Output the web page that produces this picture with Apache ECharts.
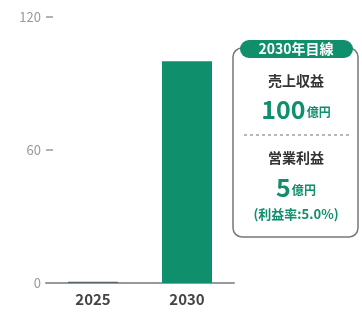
<!DOCTYPE html>
<html><head><meta charset="utf-8">
<script src="https://cdn.jsdelivr.net/npm/echarts@6/dist/echarts.min.js"></script>
<style>html,body{margin:0;padding:0;background:#fff}#c{width:362px;height:313px}</style>
</head><body><div id="c"></div>
<script>
const categories = ['2025', '2030'];
const revenue = [0.6, 100];
const yTicks = [0, 60, 120];
const boxTitle = '2030年目線';
const boxRevLabel = '売上収益';
const boxRevValue = '100';
const boxOpLabel = '営業利益';
const boxOpValue = '5';
const boxUnit = '億円';
const boxMargin = '(利益率:5.0%)';

const green = '#0f8f6c';
const font = '"Noto Sans CJK JP", "Noto Sans", sans-serif';
const chart = echarts.init(document.getElementById('c'), null, {renderer: 'canvas'});
const cx = 296;
chart.setOption({
  animation: false,
  grid: {left: 46, right: 128, top: 17, bottom: 30},
  xAxis: {
    type: 'category', data: categories,
    axisLine: {lineStyle: {color: '#999', width: 2}},
    axisTick: {show: false},
    axisLabel: {color: '#444', fontSize: 15, fontWeight: 600, fontFamily: font, margin: 9}
  },
  yAxis: {
    type: 'value', min: yTicks[0], max: yTicks[yTicks.length - 1], interval: yTicks[1] - yTicks[0],
    axisLine: {show: false},
    axisTick: {show: true, inside: true, length: 7, lineStyle: {color: '#999', width: 1.5}},
    splitLine: {show: false},
    axisLabel: {color: '#999', fontSize: 13, fontFamily: font, margin: 5}
  },
  series: [{
    type: 'bar', data: revenue.map((v, i) => ({value: v, itemStyle: {color: i === 0 ? '#56656a' : green}})),
    barWidth: 50
  }],
  graphic: [
    {type: 'rect', shape: {x: 233, y: 48, width: 125, height: 189, r: 9},
     style: {fill: '#fff', stroke: '#777', lineWidth: 1.5}},
    {type: 'rect', shape: {x: 240, y: 40, width: 113, height: 18, r: 9},
     style: {fill: green}},
    {type: 'text', x: cx, y: 49, style: {text: boxTitle, fill: '#fff', font: '600 14px ' + font, align: 'center', verticalAlign: 'middle'}},
    {type: 'text', x: cx, y: 81, style: {text: boxRevLabel, fill: '#333', font: 'bold 14px ' + font, align: 'center', verticalAlign: 'middle'}},
    {type: 'text', x: cx, y: 109, style: {
      text: '{a|' + boxRevValue + '}{b|' + boxUnit + '}', align: 'center', verticalAlign: 'middle',
      rich: {a: {fill: green, font: 'bold 25px ' + font}, b: {fill: green, font: 'bold 12px ' + font, padding: [7, 0, 0, 1]}}}},
    {type: 'line', shape: {x1: 244, y1: 135, x2: 350, y2: 135}, style: {stroke: '#888', lineWidth: 1.2, lineDash: [3, 3]}},
    {type: 'text', x: cx, y: 158, style: {text: boxOpLabel, fill: '#333', font: 'bold 14px ' + font, align: 'center', verticalAlign: 'middle'}},
    {type: 'text', x: cx, y: 187, style: {
      text: '{a|' + boxOpValue + '}{b|' + boxUnit + '}', align: 'center', verticalAlign: 'middle',
      rich: {a: {fill: green, font: 'bold 25px ' + font}, b: {fill: green, font: 'bold 12px ' + font, padding: [7, 0, 0, 1]}}}},
    {type: 'text', x: cx, y: 214, style: {text: boxMargin, fill: green, font: 'bold 13px ' + font, align: 'center', verticalAlign: 'middle'}}
  ]
});
</script></body></html>
